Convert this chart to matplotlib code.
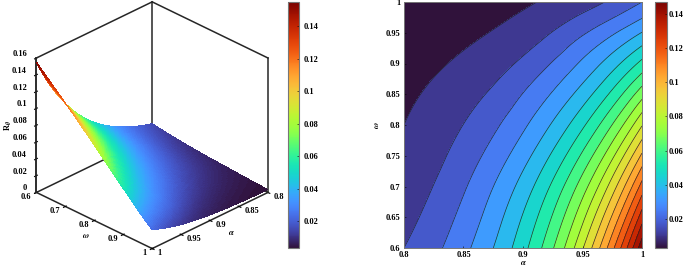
import numpy as np
import matplotlib
matplotlib.use('Agg')
import matplotlib.pyplot as plt
import matplotlib.tri as mtri
from matplotlib.cm import ScalarMappable
from matplotlib.colors import Normalize

plt.rcParams['font.family'] = ['Liberation Serif', 'DejaVu Serif']
plt.rcParams['font.weight'] = 'bold'
plt.rcParams['mathtext.fontset'] = 'stix'

# values
alpha = [0.8, 0.85, 0.9, 0.95, 1.0]
omega = [0.6, 0.7, 0.8, 0.9, 0.95, 1.0]
r_060 = [0.0150, 0.0279, 0.0500, 0.0893, 0.1550]
r_070 = [0.0105, 0.0216, 0.0405, 0.0714, 0.1230]
r_080 = [0.0075, 0.0151, 0.0286, 0.0511, 0.0895]
r_090 = [0.0053, 0.0087, 0.0165, 0.0314, 0.0548]
r_095 = [0.0042, 0.0061, 0.0107, 0.0215, 0.0378]
r_100 = [0.0034, 0.0043, 0.0066, 0.0118, 0.0225]
levels = [0.0075 * k for k in range(0, 22)]
z_ticks = [0, 0.02, 0.04, 0.06, 0.08, 0.1, 0.12, 0.14, 0.16]
cb_ticks = [0.02, 0.04, 0.06, 0.08, 0.1, 0.12, 0.14]

R = np.array([r_060, r_070, r_080, r_090, r_095, r_100])
A, W = np.meshgrid(alpha, omega)

# smooth the read grid for drawing
tri = mtri.Triangulation(A.ravel(), W.ravel())
refiner = mtri.UniformTriRefiner(tri)
interp = mtri.CubicTriInterpolator(tri, np.log(R.ravel()), kind='min_E')
tri_f, logR_f = refiner.refine_field(np.log(R.ravel()), triinterpolator=interp, subdiv=4)
R_f = np.exp(logR_f)


def lab(v):
    return f'{v:g}'


W_PX, H_PX = 685, 266
DARK = '#262626'
fig = plt.figure(figsize=(W_PX / 100, H_PX / 100), dpi=100)

# 3D surface
ax = fig.add_axes([-0.0336, -0.0356, 0.5, 1.1], projection='3d', proj_type='ortho',
                  computed_zorder=False)
ax.set_box_aspect((164, 164, 154), zoom=0.922)
ax.view_init(elev=29, azim=45)

# back edges of the box, the panes leave some of them open
a0, a1, w0, w1, z0, z1 = 0.8, 1, 0.6, 1, 0, 0.16
for xs, ys, zs in [([a0, a0], [w0, w0], [z0, z1]),
                   ([a1, a1], [w0, w0], [z0, z1]),
                   ([a0, a0], [w1, w1], [z0, z1]),
                   ([a1, a0], [w0, w0], [z1, z1]),
                   ([a0, a0], [w0, w1], [z1, z1]),
                   ([a1, a0], [w0, w0], [z0, z0]),
                   ([a0, a0], [w0, w1], [z0, z0])]:
    ax.plot(xs, ys, zs, color=DARK, lw=1.1, zorder=1)

ax.plot_trisurf(tri_f, R_f, cmap='turbo', vmin=0.0034, vmax=0.155, shade=False,
                linewidth=0.2, edgecolor='none', antialiased=False, zorder=2)
ax.set_xlim(a0, a1)
ax.set_ylim(w0, w1)
ax.set_zlim(z0, z1)
ax.set_xticks([0.8, 0.85, 0.9, 0.95, 1])
ax.set_yticks([0.6, 0.7, 0.8, 0.9, 1])
ax.set_zticks(z_ticks)
ax.set_xticklabels([lab(v) for v in [0.8, 0.85, 0.9, 0.95, 1]], fontsize=6, ha='left', va='bottom')
ax.set_yticklabels([lab(v) for v in [0.6, 0.7, 0.8, 0.9, 1]], fontsize=6, ha='right', va='bottom')
ax.set_zticklabels([lab(v) for v in z_ticks], fontsize=6, ha='right', va='bottom')
ax.grid(False)
for a in (ax.xaxis, ax.yaxis, ax.zaxis):
    a.pane.set_facecolor((1, 1, 1, 0))
    a.pane.set_edgecolor((1, 1, 1, 0))
    a.line.set_color(DARK)
    a.line.set_linewidth(1.1)
ax.xaxis.set_tick_params(pad=-3, length=2, width=0.6)
ax.yaxis.set_tick_params(pad=-3, length=2, width=0.6)
ax.zaxis.set_tick_params(pad=-3.5, length=2, width=0.6)
ax.zaxis.set_ticks_position('lower')

fig.text(231 / W_PX, 1 - 233 / H_PX, r'$\alpha$', fontsize=6, ha='center', va='center')
fig.text(86 / W_PX, 1 - 236 / H_PX, r'$\omega$', fontsize=6, ha='center', va='center')
fig.text(8 / W_PX, 1 - 125 / H_PX, r'R$_{\theta}$', fontsize=6, ha='center', va='center', rotation=90)

cax1 = fig.add_axes([288 / W_PX, 1 - 248 / H_PX, 11 / W_PX, 246 / H_PX])
cb1 = fig.colorbar(ScalarMappable(Normalize(0.0034, 0.1548), 'turbo'), cax=cax1)
cb1.set_ticks(cb_ticks, labels=[lab(v) for v in cb_ticks], fontsize=6)
cb1.ax.tick_params(length=1.5, width=0.4, pad=3, direction='in')
cb1.outline.set_edgecolor('#777777')

# contour map
ax2 = fig.add_axes([404 / W_PX, 1 - 248 / H_PX, 238 / W_PX, 246 / H_PX])
ax2.tricontourf(tri_f, R_f, levels=levels, cmap='turbo', vmin=0.0034, vmax=0.155)
ax2.tricontour(tri_f, R_f, levels=levels, colors='#222222', linewidths=0.5, alpha=0.9)
ax2.set_xlim(0.8, 1)
ax2.set_ylim(0.6, 1)
ax2.set_xticks([0.8, 0.85, 0.9, 0.95, 1], labels=['0.8', '0.85', '0.9', '0.95', '1'], fontsize=6)
ax2.set_yticks([0.6, 0.65, 0.7, 0.75, 0.8, 0.85, 0.9, 0.95, 1],
               labels=['0.6', '0.65', '0.7', '0.75', '0.8', '0.85', '0.9', '0.95', '1'], fontsize=6)
ax2.tick_params(length=1.5, width=0.4, pad=2.5, direction='in')
for s in ax2.spines.values():
    s.set_edgecolor('#777777')
    s.set_linewidth(0.7)
ax2.set_xlabel(r'$\alpha$', fontsize=6)
ax2.set_ylabel(r'$\omega$', fontsize=6, rotation=90)
ax2.xaxis.set_label_coords(0.5, -0.046)
ax2.yaxis.set_label_coords(-0.096, 0.5)

cax2 = fig.add_axes([655 / W_PX, 1 - 248 / H_PX, 12 / W_PX, 246 / H_PX])
cb2 = fig.colorbar(ScalarMappable(Normalize(0.003, 0.147), 'turbo'), cax=cax2)
cb2.set_ticks(cb_ticks, labels=[lab(v) for v in cb_ticks], fontsize=6)
cb2.ax.tick_params(length=1.5, width=0.4, pad=1, direction='in')
cb2.outline.set_edgecolor('#777777')

fig.savefig('out.png', dpi=100)
